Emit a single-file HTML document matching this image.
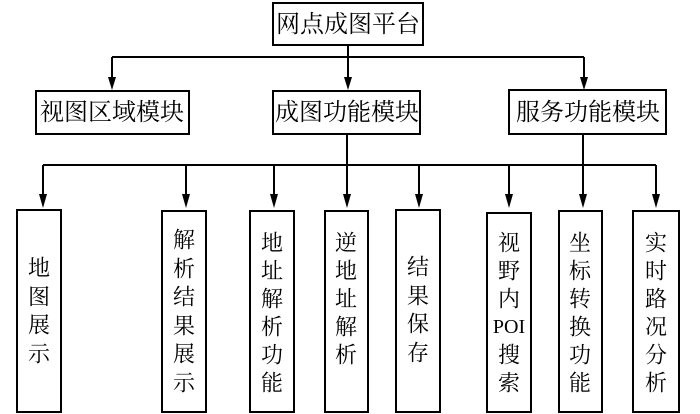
<!DOCTYPE html>
<html><head><meta charset="utf-8"><style>
html,body{margin:0;padding:0;background:#fff;}
svg{display:block;}
text{font-family:"Liberation Serif","Noto Serif CJK SC",serif;fill:#000;text-anchor:middle;dominant-baseline:central;}
</style></head><body>
<svg width="700" height="414" viewBox="0 0 700 414" xmlns="http://www.w3.org/2000/svg">
<g stroke="#000" stroke-width="2" fill="none">
<rect x="273" y="3" width="150" height="42"/>
<rect x="36" y="91" width="153" height="43"/>
<rect x="273" y="91" width="147" height="43"/>
<rect x="509" y="90" width="157" height="44"/>
<rect x="17" y="210" width="44" height="202"/>
<rect x="162" y="211" width="44" height="201"/>
<rect x="250" y="211" width="44" height="201"/>
<rect x="325" y="211" width="43" height="201"/>
<rect x="396" y="210" width="44" height="202"/>
<rect x="487" y="213" width="44" height="199"/>
<rect x="559" y="211" width="43" height="201"/>
<rect x="633" y="211" width="46" height="201"/>
<path d="M348 45V57M112 57H584M347 134V165M583 134V165M43 165H656"/>
<path d="M112 57V80M348 57V80M584 57V80"/>
<path d="M43 165V196M186 165V196M274 165V196M347 165V196M419 165V196M509 165V196M583 165V196M656 165V196"/>
</g>
<g fill="#000">
<path d="M108 77H116L112 90Z"/><path d="M344 77H352L348 90Z"/><path d="M580 77H588L584 90Z"/>
<path d="M39 194H47L43 208Z"/><path d="M182 194H190L186 208Z"/><path d="M270 194H278L274 208Z"/><path d="M343 194H351L347 208Z"/><path d="M415 194H423L419 208Z"/><path d="M505 194H513L509 208Z"/><path d="M579 194H587L583 208Z"/><path d="M652 194H660L656 208Z"/>
</g>
<g font-size="24">
<text x="348" y="25">网点成图平台</text>
<text x="112" y="113">视图区域模块</text>
<text x="347" y="113">成图功能模块</text>
<text x="588" y="113">服务功能模块</text>
</g>
<g font-size="22">
<text x="39" y="268">地</text><text x="39" y="297">图</text><text x="39" y="325">展</text><text x="39" y="354">示</text>
<text x="184" y="240">解</text><text x="184" y="269">析</text><text x="184" y="297">结</text><text x="184" y="326">果</text><text x="184" y="354">展</text><text x="184" y="383">示</text>
<text x="272" y="243">地</text><text x="272" y="271">址</text><text x="272" y="299">解</text><text x="272" y="327">析</text><text x="272" y="355">功</text><text x="272" y="383">能</text>
<text x="346" y="243">逆</text><text x="346" y="271">地</text><text x="346" y="299">址</text><text x="346" y="327">解</text><text x="346" y="355">析</text>
<text x="418" y="267">结</text><text x="418" y="296">果</text><text x="418" y="324">保</text><text x="418" y="353">存</text>
<text x="509" y="243">视</text><text x="509" y="271">野</text><text x="509" y="299">内</text><text x="509" y="327" font-size="20">POI</text><text x="509" y="355">搜</text><text x="509" y="383">索</text>
<text x="580" y="243">坐</text><text x="580" y="271">标</text><text x="580" y="299">转</text><text x="580" y="327">换</text><text x="580" y="355">功</text><text x="580" y="383">能</text>
<text x="656" y="243">实</text><text x="656" y="271">时</text><text x="656" y="299">路</text><text x="656" y="327">况</text><text x="656" y="355">分</text><text x="656" y="383">析</text>
</g>
</svg>
</body></html>
